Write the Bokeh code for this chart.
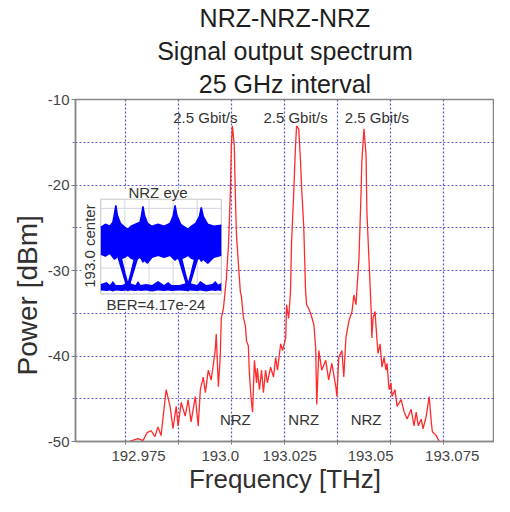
import math
from bokeh.plotting import figure
from bokeh.models import Range1d, FixedTicker, Title
from bokeh.core.properties import value
from bokeh.embed import file_html
from bokeh.resources import INLINE

FONT = "Liberation Sans"

# ---------------- spectrum ----------------
freq_thz = [
    192.9614, 192.9648, 192.9667, 192.9682, 192.9697, 192.9712, 192.9723, 192.9735,
    192.9754, 192.9769, 192.9780, 192.9792, 192.9799, 192.9811, 192.9826, 192.9837,
    192.9848, 192.9864, 192.9875, 192.9883, 192.9894, 192.9902, 192.9913, 192.9924,
    192.9939, 192.9943, 192.9951, 192.9958, 192.9962, 192.9970, 192.9981, 192.9989,
    192.9996, 193.0000, 193.0004, 193.0011, 193.0015, 193.0019, 193.0027, 193.0034,
    193.0038, 193.0045, 193.0053, 193.0057, 193.0064, 193.0068, 193.0072, 193.0076,
    193.0080, 193.0087, 193.0095, 193.0098, 193.0106, 193.0114, 193.0121, 193.0129,
    193.0136, 193.0148, 193.0159, 193.0167, 193.0174, 193.0186, 193.0193, 193.0205,
    193.0208, 193.0216, 193.0223, 193.0227, 193.0235, 193.0242, 193.0246, 193.0254,
    193.0261, 193.0265, 193.0273, 193.0280, 193.0284, 193.0292, 193.0299, 193.0311,
    193.0318, 193.0322, 193.0330, 193.0341, 193.0356, 193.0367, 193.0379, 193.0394,
    193.0398, 193.0405, 193.0417, 193.0424, 193.0432, 193.0443, 193.0455, 193.0462,
    193.0470, 193.0473, 193.0481, 193.0489, 193.0492, 193.0500, 193.0508, 193.0511,
    193.0519, 193.0527, 193.0530, 193.0534, 193.0542, 193.0545, 193.0553, 193.0561,
    193.0568, 193.0576, 193.0583, 193.0587, 193.0595, 193.0602, 193.0606, 193.0617,
    193.0625, 193.0640, 193.0652, 193.0663, 193.0678, 193.0689, 193.0697, 193.0705,
    193.0716, 193.0723, 193.0735, 193.0746, 193.0754, 193.0758, 193.0773, 193.0784,
]
power_dbm = [
    -50.00, -49.66, -49.89, -48.97, -48.74, -49.43, -48.29, -49.31,
    -43.94, -45.89, -48.51, -45.89, -48.17, -45.43, -47.03, -45.09,
    -47.71, -44.74, -48.17, -43.94, -42.46, -44.29, -41.66, -42.80,
    -39.37, -37.43, -43.60, -40.17, -35.60, -34.46, -31.03, -27.14,
    -21.09, -15.37, -13.09, -15.37, -21.09, -25.66, -29.43, -32.51,
    -33.09, -35.37, -36.51, -38.23, -38.80, -42.00, -43.94, -45.43,
    -46.57, -40.51, -43.14, -41.43, -43.94, -41.66, -44.29, -41.66,
    -43.14, -41.31, -42.46, -40.17, -41.66, -38.57, -39.37, -37.89,
    -34.00, -35.60, -32.51, -26.80, -21.09, -15.37, -13.09, -13.43,
    -17.31, -20.29, -24.86, -32.51, -34.00, -34.46, -35.03, -36.29,
    -39.03, -45.66, -39.37, -41.66, -40.51, -42.80, -40.86, -43.60,
    -44.74, -40.17, -39.37, -42.46, -37.89, -35.94, -34.80, -32.86,
    -34.00, -32.51, -28.74, -21.09, -17.31, -13.43, -16.51, -23.03,
    -28.74, -34.46, -37.89, -35.60, -34.80, -36.29, -39.71, -38.57,
    -41.31, -40.17, -41.66, -40.86, -43.94, -43.14, -44.74, -43.94,
    -45.89, -45.09, -46.57, -47.37, -46.23, -48.17, -46.57, -48.17,
    -47.37, -48.51, -47.03, -44.74, -47.71, -48.86, -49.31, -50.00,
]

# ---------------- axes ----------------
x_tick_pos = [192.9650, 192.9958, 193.0220, 193.0525, 193.0833]
x_tick_labels = ["192.975", "193.0", "193.025", "193.05", "193.075"]
x_grid = [192.96, 192.98, 193.00, 193.02, 193.04, 193.06, 193.08, 193.10]
y_ticks = [-50, -40, -30, -20, -10]
y_tick_labels = ["-50", "-40", "-30", "-20", "-10"]
y_grid = [-45, -40, -35, -30, -25, -20, -15]
y_minor = [-45, -35, -25, -15]

# ---------------- annotations ----------------
rate_text = ["2.5 Gbit/s", "2.5 Gbit/s", "2.5 Gbit/s"]
rate_f = [192.9902, 193.0242, 193.0549]
rate_db = [-12.1, -12.1, -12.1]
fmt_text = ["NRZ", "NRZ", "NRZ"]
fmt_f = [193.0015, 193.0273, 193.0508]
fmt_db = [-47.4, -47.4, -47.4]

# ---------------- inset eye diagram (time in ps, normalised amplitude) ----------------
eye_t = [0, 30, 60, 80, 90, 100, 110, 130, 160, 180, 200, 230, 260, 270, 280, 290, 310, 340,
         380, 420, 460, 480, 493, 505, 530, 560, 580, 600, 630, 655, 667, 680, 710, 750, 800]
eye_hi = [1.22, 1.28, 1.24, 1.32, 1.48, 1.66, 1.46, 1.30, 1.22, 1.18, 1.24, 1.28, 1.32, 1.46,
          1.64, 1.46, 1.30, 1.24, 1.28, 1.24, 1.30, 1.44, 1.66, 1.46, 1.28, 1.22, 1.18, 1.24,
          1.30, 1.44, 1.62, 1.44, 1.28, 1.24, 1.26]
eye_lo = [0.68, 0.64, 0.70, 0.62, 0.58, 0.60, 0.64, 0.58, 0.62, 0.66, 0.60, 0.56, 0.62, 0.58,
          0.52, 0.56, 0.50, 0.62, 0.66, 0.62, 0.66, 0.60, 0.56, 0.60, 0.58, 0.62, 0.66, 0.60,
          0.56, 0.60, 0.54, 0.58, 0.50, 0.62, 0.66]
rail_t = [0, 40, 60, 80, 100, 140, 170, 180, 190, 230, 247, 265, 300, 340, 380, 420, 447, 470,
          520, 570, 580, 590, 640, 660, 700, 740, 760, 780, 800]
rail_hi = [0.08, 0.12, 0.06, 0.14, 0.06, 0.06, 0.10, 0.14, 0.10, 0.06, 0.14, 0.06, 0.08, 0.06,
           0.14, 0.06, 0.12, 0.06, 0.06, 0.10, 0.14, 0.10, 0.06, 0.14, 0.06, 0.08, 0.14, 0.07, 0.10]
rail_lo = [-0.05, -0.06, -0.05, -0.07, -0.05, -0.06, -0.05, -0.07, -0.05, -0.06, -0.05, -0.06,
           -0.05, -0.07, -0.05, -0.06, -0.05, -0.06, -0.05, -0.06, -0.07, -0.05, -0.06, -0.05,
           -0.07, -0.05, -0.06, -0.05, -0.06]
cross_t = [[118, 150, 172, 180], [132, 158, 176, 182], [242, 210, 188, 180], [228, 202, 184, 178],
           [518, 550, 572, 580], [532, 558, 576, 582], [642, 610, 588, 580], [628, 602, 584, 578]]
cross_a = [[0.62, 0.30, 0.08, 0.02], [0.60, 0.28, 0.08, 0.02], [0.62, 0.30, 0.08, 0.02], [0.60, 0.28, 0.08, 0.02],
           [0.62, 0.30, 0.08, 0.02], [0.60, 0.28, 0.08, 0.02], [0.62, 0.30, 0.08, 0.02], [0.60, 0.28, 0.08, 0.02]]
eye_t_lim = (0, 800)
eye_a_lim = (-0.118, 1.784)
eye_grid_t = [160, 320, 480, 640]
eye_grid_a = [0.4, 0.8, 1.2, 1.6]

# placement of inset (main data coordinates)
inset_bg = dict(left=192.94356, right=192.99773, bottom=-34.8, top=-20.4)
eye_area_f = (192.95076, 192.99621)
eye_area_db = (-32.74, -21.66)

p = figure(width=494, height=496, output_backend="svg", toolbar_location=None, title=None,
           x_range=Range1d(192.94122, 193.09924), y_range=Range1d(-50, -10),
           min_border_left=75, min_border_right=0, min_border_top=96, min_border_bottom=40,
           background_fill_color="white", border_fill_color="white")
p.outline_line_color = "#888888"
p.outline_line_width = 1.5

for txt in ["25 GHz interval", "Signal output spectrum", "NRZ-NRZ-NRZ"]:
    p.add_layout(Title(text=txt, align="center", text_font=FONT, text_font_size="25px",
                       text_font_style="normal", text_color="#1e1e1e", standoff=3), "above")

# x axis
xa = p.xaxis[0]
xa.ticker = FixedTicker(ticks=x_tick_pos, minor_ticks=x_grid)
xa.major_label_overrides = {pos: lab for pos, lab in zip(x_tick_pos, x_tick_labels)}
xa.major_tick_line_color = None
xa.major_tick_out = 0
xa.major_tick_in = 0
xa.minor_tick_out = 3
xa.minor_tick_in = 0
xa.minor_tick_line_color = "#808080"
xa.major_label_standoff = 6
xa.major_label_text_font = FONT
xa.major_label_text_font_size = "15px"
xa.major_label_text_color = "#444444"
xa.axis_label = "Frequency [THz]"
xa.axis_label_text_font = FONT
xa.axis_label_text_font_size = "26px"
xa.axis_label_text_font_style = "normal"
xa.axis_label_text_color = "#303030"
xa.axis_label_standoff = 0
xa.axis_line_color = "#888888"
xa.axis_line_width = 1.5

ya = p.yaxis[0]
ya.ticker = FixedTicker(ticks=y_ticks, minor_ticks=y_minor)
ya.major_label_overrides = {t: lab for t, lab in zip(y_ticks, y_tick_labels)}
ya.major_tick_out = 4
ya.major_tick_in = 0
ya.major_tick_line_color = "#808080"
ya.minor_tick_out = 3
ya.minor_tick_in = 0
ya.minor_tick_line_color = "#808080"
ya.major_label_standoff = 2
ya.major_label_text_font = FONT
ya.major_label_text_font_size = "15px"
ya.major_label_text_color = "#444444"
ya.axis_line_color = "#888888"
ya.axis_line_width = 1.5

# y-axis title, placed lower than centre as in the original
p.add_layout(Title(text="Power [dBm]", align="left", offset=66, text_font=FONT,
                   text_font_size="28px", text_font_style="normal", text_color="#303030",
                   standoff=4), "left")

p.xgrid.ticker = FixedTicker(ticks=x_grid)
p.ygrid.ticker = FixedTicker(ticks=y_grid)
for g in (p.xgrid, p.ygrid):
    g.grid_line_color = "#3c3cb4"
    g.grid_line_dash = "2 2"
    g.grid_line_width = 1.2
    g.grid_line_alpha = 0.85

# extra ranges mapping the eye-diagram units onto the inset area
x0, x1 = p.x_range.start, p.x_range.end
y0, y1 = p.y_range.start, p.y_range.end
st = (eye_t_lim[1] - eye_t_lim[0]) / (eye_area_f[1] - eye_area_f[0])
sa = (eye_a_lim[1] - eye_a_lim[0]) / (eye_area_db[1] - eye_area_db[0])
p.extra_x_ranges = {"eye_t": Range1d(eye_t_lim[0] - (eye_area_f[0] - x0) * st,
                                     eye_t_lim[1] + (x1 - eye_area_f[1]) * st)}
p.extra_y_ranges = {"eye_a": Range1d(eye_a_lim[0] - (eye_area_db[0] - y0) * sa,
                                     eye_a_lim[1] + (y1 - eye_area_db[1]) * sa)}
E = dict(x_range_name="eye_t", y_range_name="eye_a")

# inset background
p.quad(left=[inset_bg["left"]], right=[inset_bg["right"]], bottom=[inset_bg["bottom"]],
       top=[inset_bg["top"]], fill_color="white", line_color=None)
# inset grid + frame
p.segment(x0=eye_grid_t, x1=eye_grid_t, y0=[eye_a_lim[0]] * 4, y1=[eye_a_lim[1]] * 4,
          line_color="#d4d4e6", line_width=1, **E)
p.segment(x0=[eye_t_lim[0]] * 4, x1=[eye_t_lim[1]] * 4, y0=eye_grid_a, y1=eye_grid_a,
          line_color="#d4d4e6", line_width=1, **E)
p.quad(left=[eye_t_lim[0]], right=[eye_t_lim[1]], bottom=[eye_a_lim[0]], top=[eye_a_lim[1]],
       fill_color=None, line_color="#c4c4c4", line_width=1, **E)
# eye traces
p.varea(x=eye_t, y1=eye_lo, y2=eye_hi, fill_color="#0000ff", **E)
p.line(eye_t, eye_hi, line_color="#0000ff", line_width=1.5, **E)
p.line(eye_t, eye_lo, line_color="#0000ff", line_width=1.5, **E)
p.varea(x=rail_t, y1=rail_lo, y2=rail_hi, fill_color="#0000ff", **E)
p.multi_line(xs=cross_t, ys=cross_a, line_color="#0000ff", line_width=2.5, **E)

p.text(x=[192.97235], y=[-20.86], text=["NRZ eye"], text_font=value(FONT), text_font_size="15px",
       text_color="#333333", text_align="center", text_baseline="middle")
p.text(x=[192.97159], y=[-34.0], text=["BER=4.17e-24"], text_font=value(FONT), text_font_size="15px",
       text_color="#333333", text_align="center", text_baseline="middle")
p.text(x=[192.94659], y=[-27.14], text=["193.0 center"], text_font=value(FONT), text_font_size="15px",
       text_color="#333333", text_align="center", text_baseline="middle", angle=math.pi / 2)

# spectrum
p.line(freq_thz, power_dbm, line_color="#ff2a2a", line_width=1.3)

p.text(x=rate_f, y=rate_db, text=rate_text, text_font=value(FONT), text_font_size="15px",
       text_color="#333333", text_align="center", text_baseline="middle")
p.text(x=fmt_f, y=fmt_db, text=fmt_text, text_font=value(FONT), text_font_size="15px",
       text_color="#333333", text_align="center", text_baseline="middle")

open("out.html", "w").write(file_html(p, INLINE))
